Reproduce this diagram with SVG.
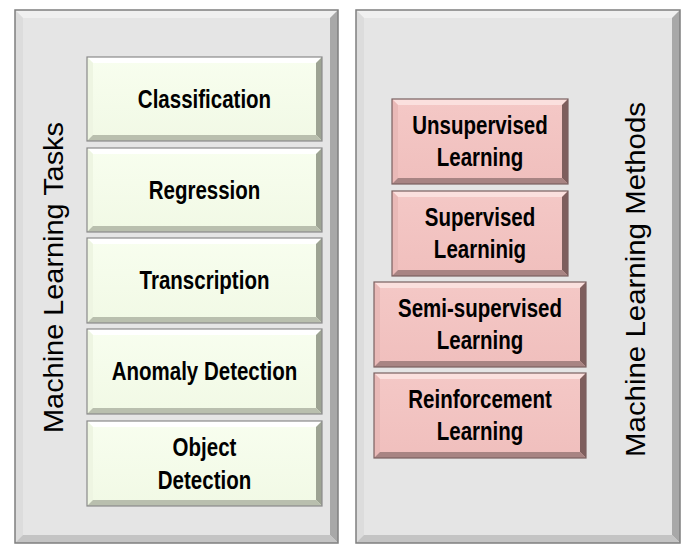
<svg xmlns="http://www.w3.org/2000/svg" width="682" height="546" viewBox="0 0 682 546">
<style>
.lbl{font-family:"Liberation Sans",Arial,sans-serif;font-weight:bold;font-size:25px;fill:#000;text-anchor:middle}
.ttl{font-family:"Liberation Sans",Arial,sans-serif;font-size:28px;fill:#000;text-anchor:middle}
.pface{fill:#e5e5e5}
.pt{fill:#f0f0f0}.pl{fill:#dcdcdc}.pr{fill:#a8a8a8}.pb{fill:#c4c4c4}
.pst{fill:none;stroke:#7f7f7f;stroke-width:1.5}
.gface{fill:url(#gg)}
.gt{fill:#ffffff}.gl{fill:#eef5e2}.gr{fill:#9da393}.gb{fill:#b9bfae}
.gst{fill:none;stroke:#8a8a8a;stroke-width:1.2}
.rface{fill:url(#rg)}
.rt{fill:#fbe0de}.rl{fill:#e9b9b7}.rr{fill:#7e5e5d}.rb{fill:#a88483}
.rst{fill:none;stroke:#7a6060;stroke-width:1.2}
</style>
<defs>
<linearGradient id="gg" x1="0" y1="0" x2="0" y2="1"><stop offset="0" stop-color="#f8feef"/><stop offset="1" stop-color="#f1f9e5"/></linearGradient>
<linearGradient id="rg" x1="0" y1="0" x2="0" y2="1"><stop offset="0" stop-color="#f4c8c6"/><stop offset="1" stop-color="#f0bfbd"/></linearGradient>
</defs>

<g id="panel-tasks">
<rect class="pface" x="15" y="10" width="323" height="533"/>
<polygon class="pt" points="15,10 338,10 330,18 23,18"/>
<polygon class="pl" points="15,10 23,18 23,535 15,543"/>
<polygon class="pr" points="338,10 338,543 330,535 330,18"/>
<polygon class="pb" points="15,543 23,535 330,535 338,543"/>
<rect class="pst" x="15" y="10" width="323" height="533"/>
<text class="ttl" transform="translate(63,277.5) rotate(-90)" textLength="311" lengthAdjust="spacingAndGlyphs">Machine Learning Tasks</text>
</g>

<g id="panel-methods">
<rect class="pface" x="356" y="10" width="324" height="533"/>
<polygon class="pt" points="356,10 680,10 672,18 364,18"/>
<polygon class="pl" points="356,10 364,18 364,535 356,543"/>
<polygon class="pr" points="680,10 680,543 672,535 672,18"/>
<polygon class="pb" points="356,543 364,535 672,535 680,543"/>
<rect class="pst" x="356" y="10" width="324" height="533"/>
<text class="ttl" transform="translate(645,279.5) rotate(-90)" textLength="355" lengthAdjust="spacingAndGlyphs">Machine Learning Methods</text>
</g>

<g id="classification">
<rect class="gface" x="87" y="57" width="235" height="84"/>
<polygon class="gt" points="87,57 322,57 316,63 93,63"/>
<polygon class="gl" points="87,57 93,63 93,135 87,141"/>
<polygon class="gr" points="322,57 322,141 316,135 316,63"/>
<polygon class="gb" points="87,141 93,135 316,135 322,141"/>
<rect class="gst" x="87" y="57" width="235" height="84"/>
<text class="lbl" transform="translate(204.5,107.5) scale(0.82,1)">Classification</text>
</g>

<g id="regression">
<rect class="gface" x="87" y="148" width="235" height="84"/>
<polygon class="gt" points="87,148 322,148 316,154 93,154"/>
<polygon class="gl" points="87,148 93,154 93,226 87,232"/>
<polygon class="gr" points="322,148 322,232 316,226 316,154"/>
<polygon class="gb" points="87,232 93,226 316,226 322,232"/>
<rect class="gst" x="87" y="148" width="235" height="84"/>
<text class="lbl" transform="translate(204.5,198.5) scale(0.82,1)">Regression</text>
</g>

<g id="transcription">
<rect class="gface" x="87" y="238" width="235" height="85"/>
<polygon class="gt" points="87,238 322,238 316,244 93,244"/>
<polygon class="gl" points="87,238 93,244 93,317 87,323"/>
<polygon class="gr" points="322,238 322,323 316,317 316,244"/>
<polygon class="gb" points="87,323 93,317 316,317 322,323"/>
<rect class="gst" x="87" y="238" width="235" height="85"/>
<text class="lbl" transform="translate(204.5,289) scale(0.82,1)">Transcription</text>
</g>

<g id="anomaly-detection">
<rect class="gface" x="87" y="329" width="235" height="85"/>
<polygon class="gt" points="87,329 322,329 316,335 93,335"/>
<polygon class="gl" points="87,329 93,335 93,408 87,414"/>
<polygon class="gr" points="322,329 322,414 316,408 316,335"/>
<polygon class="gb" points="87,414 93,408 316,408 322,414"/>
<rect class="gst" x="87" y="329" width="235" height="85"/>
<text class="lbl" transform="translate(204.5,380) scale(0.82,1)">Anomaly Detection</text>
</g>

<g id="object-detection">
<rect class="gface" x="87" y="421" width="235" height="85"/>
<polygon class="gt" points="87,421 322,421 316,427 93,427"/>
<polygon class="gl" points="87,421 93,427 93,500 87,506"/>
<polygon class="gr" points="322,421 322,506 316,500 316,427"/>
<polygon class="gb" points="87,506 93,500 316,500 322,506"/>
<rect class="gst" x="87" y="421" width="235" height="85"/>
<text class="lbl" transform="translate(204.5,456) scale(0.82,1)">Object</text>
<text class="lbl" transform="translate(204.5,489) scale(0.82,1)">Detection</text>
</g>

<g id="unsupervised">
<rect class="rface" x="392" y="99" width="176" height="85"/>
<polygon class="rt" points="392,99 568,99 562,105 398,105"/>
<polygon class="rl" points="392,99 398,105 398,178 392,184"/>
<polygon class="rr" points="568,99 568,184 562,178 562,105"/>
<polygon class="rb" points="392,184 398,178 562,178 568,184"/>
<rect class="rst" x="392" y="99" width="176" height="85"/>
<text class="lbl" transform="translate(480,133.5) scale(0.82,1)">Unsupervised</text>
<text class="lbl" transform="translate(480,165.5) scale(0.82,1)">Learning</text>
</g>

<g id="supervised">
<rect class="rface" x="392" y="191" width="176" height="85"/>
<polygon class="rt" points="392,191 568,191 562,197 398,197"/>
<polygon class="rl" points="392,191 398,197 398,270 392,276"/>
<polygon class="rr" points="568,191 568,276 562,270 562,197"/>
<polygon class="rb" points="392,276 398,270 562,270 568,276"/>
<rect class="rst" x="392" y="191" width="176" height="85"/>
<text class="lbl" transform="translate(480,225.5) scale(0.82,1)">Supervised</text>
<text class="lbl" transform="translate(480,257.5) scale(0.82,1)">Learninig</text>
</g>

<g id="semi-supervised">
<rect class="rface" x="374" y="282" width="212" height="85"/>
<polygon class="rt" points="374,282 586,282 580,288 380,288"/>
<polygon class="rl" points="374,282 380,288 380,361 374,367"/>
<polygon class="rr" points="586,282 586,367 580,361 580,288"/>
<polygon class="rb" points="374,367 380,361 580,361 586,367"/>
<rect class="rst" x="374" y="282" width="212" height="85"/>
<text class="lbl" transform="translate(480,316.5) scale(0.82,1)">Semi-supervised</text>
<text class="lbl" transform="translate(480,348.5) scale(0.82,1)">Learning</text>
</g>

<g id="reinforcement">
<rect class="rface" x="374" y="373" width="212" height="85"/>
<polygon class="rt" points="374,373 586,373 580,379 380,379"/>
<polygon class="rl" points="374,373 380,379 380,452 374,458"/>
<polygon class="rr" points="586,373 586,458 580,452 580,379"/>
<polygon class="rb" points="374,458 380,452 580,452 586,458"/>
<rect class="rst" x="374" y="373" width="212" height="85"/>
<text class="lbl" transform="translate(480,407.5) scale(0.82,1)">Reinforcement</text>
<text class="lbl" transform="translate(480,439.5) scale(0.82,1)">Learning</text>
</g>

<g id="connectors"/>
</svg>
